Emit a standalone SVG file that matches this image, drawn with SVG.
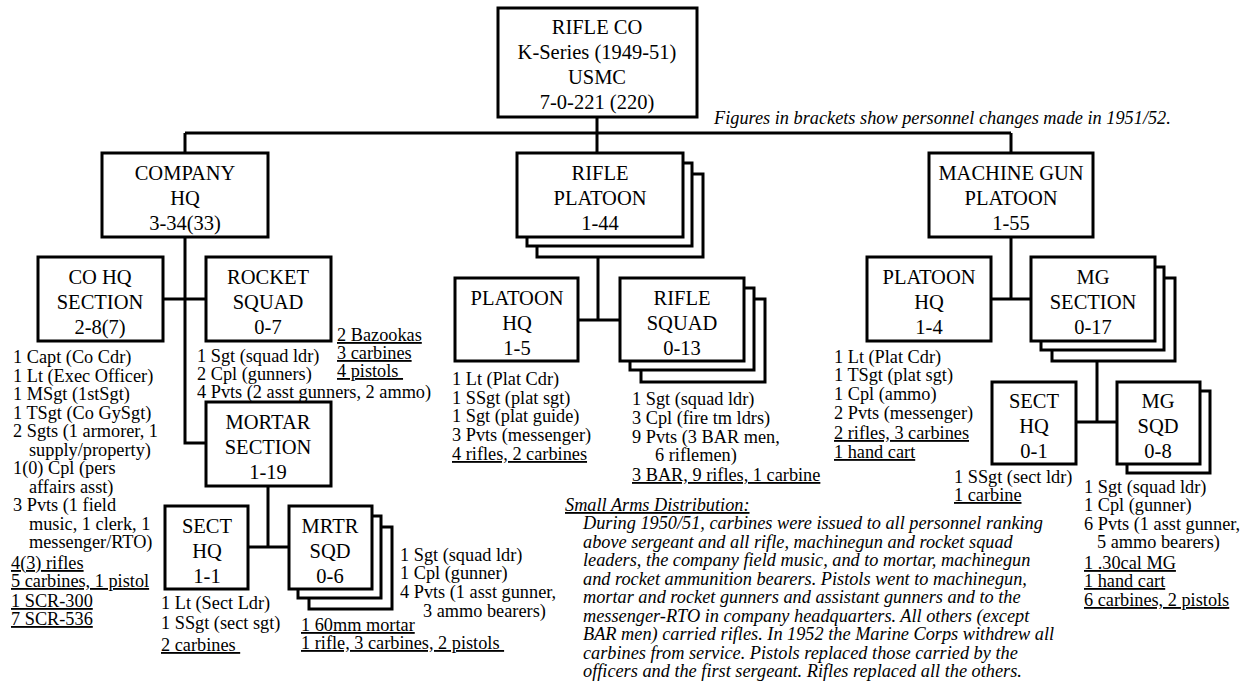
<svg xmlns="http://www.w3.org/2000/svg" width="1248" height="681" viewBox="0 0 1248 681">
<style>
.b{fill:#fff;stroke:#000;stroke-width:3}
.c{fill:none;stroke:#000;stroke-width:3}
.n{font-family:"Liberation Serif","Times New Roman",serif;font-size:20.5px;text-anchor:middle;fill:#000}
.d{font-family:"Liberation Serif","Times New Roman",serif;font-size:18.3px;fill:#000}
.u{text-decoration:underline}
.i{font-style:italic}
</style>
<rect width="1248" height="681" fill="#fff"/>
<g id="connectors">
<path class="c" d="M597 117V153M185 133H1011M185 133V153M1011 133V153"/>
<path class="c" d="M185 237V443H206M163 299H206"/>
<path class="c" d="M268 486V547M248 547H289"/>
<path class="c" d="M598 237V320M578 320H620"/>
<path class="c" d="M1011 237V299M991 299H1031"/>
<path class="c" d="M1097 341V422M1076 422H1117"/>
</g>
<g id="rifle-co">
<rect class="b" x="498" y="8" width="199" height="109"/>
<text class="n" x="597" y="34">RIFLE CO</text>
<text class="n" x="597" y="59">K-Series (1949-51)</text>
<text class="n" x="597" y="84">USMC</text>
<text class="n" x="597" y="109">7-0-221 (220)</text>
</g>
<g id="note">
<text class="d i" x="714" y="124">Figures in brackets show personnel changes made in 1951/52.</text>
</g>
<g id="company-hq">
<rect class="b" x="102" y="153" width="166" height="84"/>
<text class="n" x="185" y="180">COMPANY</text>
<text class="n" x="185" y="205">HQ</text>
<text class="n" x="185" y="230">3-34(33)</text>
</g>
<g id="co-hq-section">
<rect class="b" x="38" y="257" width="125" height="84"/>
<text class="n" x="100" y="284">CO HQ</text>
<text class="n" x="100" y="309">SECTION</text>
<text class="n" x="100" y="334">2-8(7)</text>
<text class="d" x="13" y="363">1 Capt (Co Cdr)</text>
<text class="d" x="13" y="381.5">1 Lt (Exec Officer)</text>
<text class="d" x="13" y="400">1 MSgt (1stSgt)</text>
<text class="d" x="13" y="418.5">1 TSgt (Co GySgt)</text>
<text class="d" x="13" y="437">2 Sgts (1 armorer, 1</text>
<text class="d" x="29" y="455.5">supply/property)</text>
<text class="d" x="13" y="474">1(0) Cpl (pers</text>
<text class="d" x="29" y="492.5">affairs asst)</text>
<text class="d" x="13" y="511">3 Pvts (1 field</text>
<text class="d" x="29" y="529.5">music, 1 clerk, 1</text>
<text class="d" x="29" y="548">messenger/RTO)</text>
<text class="d u" x="11" y="569">4(3) rifles</text>
<text class="d u" x="11" y="587">5 carbines, 1 pistol</text>
<text class="d u" x="11" y="607">1 SCR-300</text>
<text class="d u" x="11" y="625">7 SCR-536</text>
</g>
<g id="rocket-squad">
<rect class="b" x="206" y="257" width="125" height="84"/>
<text class="n" x="268" y="284">ROCKET</text>
<text class="n" x="268" y="309">SQUAD</text>
<text class="n" x="268" y="334">0-7</text>
<text class="d" x="197" y="362">1 Sgt (squad ldr)</text>
<text class="d" x="197" y="380">2 Cpl (gunners)</text>
<text class="d" x="197" y="398">4 Pvts (2 asst gunners, 2 ammo)</text>
<text class="d u" x="337" y="341">2 Bazookas</text>
<text class="d u" x="337" y="359">3 carbines</text>
<text class="d u" x="337" y="377">4 pistols&#160;</text>
</g>
<g id="mortar-section">
<rect class="b" x="206" y="402" width="125" height="84"/>
<text class="n" x="268" y="429">MORTAR</text>
<text class="n" x="268" y="454">SECTION</text>
<text class="n" x="268" y="479">1-19</text>
</g>
<g id="mortar-sect-hq">
<rect class="b" x="165" y="506" width="83" height="83"/>
<text class="n" x="207" y="533">SECT</text>
<text class="n" x="207" y="558">HQ</text>
<text class="n" x="207" y="583">1-1</text>
<text class="d" x="161" y="609">1 Lt (Sect Ldr)</text>
<text class="d" x="161" y="629">1 SSgt (sect sgt)</text>
<text class="d u" x="161" y="651">2 carbines&#160;</text>
</g>
<g id="mrtr-sqd">
<rect class="b" x="309" y="527" width="83" height="82"/>
<rect class="b" x="298" y="516" width="83" height="82"/>
<rect class="b" x="289" y="506" width="83" height="83"/>
<text class="n" x="330" y="533">MRTR</text>
<text class="n" x="330" y="558">SQD</text>
<text class="n" x="330" y="583">0-6</text>
<text class="d" x="400" y="561">1 Sgt (squad ldr)</text>
<text class="d" x="400" y="579">1 Cpl (gunner)</text>
<text class="d" x="400" y="598">4 Pvts (1 asst gunner,</text>
<text class="d" x="423" y="617">3 ammo bearers)</text>
<text class="d u" x="301" y="631">1 60mm mortar</text>
<text class="d u" x="301" y="649">1 rifle, 3 carbines, 2 pistols&#160;</text>
</g>
<g id="rifle-platoon">
<rect class="b" x="537" y="174" width="166" height="83"/>
<rect class="b" x="527" y="163" width="165" height="83"/>
<rect class="b" x="517" y="153" width="166" height="84"/>
<text class="n" x="600" y="180">RIFLE</text>
<text class="n" x="600" y="205">PLATOON</text>
<text class="n" x="600" y="230">1-44</text>
</g>
<g id="platoon-hq">
<rect class="b" x="455" y="278" width="123" height="83"/>
<text class="n" x="517" y="305">PLATOON</text>
<text class="n" x="517" y="330">HQ</text>
<text class="n" x="517" y="355">1-5</text>
<text class="d" x="452" y="385">1 Lt (Plat Cdr)</text>
<text class="d" x="452" y="404">1 SSgt (plat sgt)</text>
<text class="d" x="452" y="422">1 Sgt (plat guide)</text>
<text class="d" x="452" y="441">3 Pvts (messenger)</text>
<text class="d u" x="452" y="460">4 rifles, 2 carbines</text>
</g>
<g id="rifle-squad">
<rect class="b" x="641" y="299" width="124" height="83"/>
<rect class="b" x="630" y="288" width="124" height="82"/>
<rect class="b" x="620" y="278" width="124" height="83"/>
<text class="n" x="682" y="305">RIFLE</text>
<text class="n" x="682" y="330">SQUAD</text>
<text class="n" x="682" y="355">0-13</text>
<text class="d" x="632" y="405">1 Sgt (squad ldr)</text>
<text class="d" x="632" y="424">3 Cpl (fire tm ldrs)</text>
<text class="d" x="632" y="443">9 Pvts (3 BAR men,</text>
<text class="d" x="655" y="461">6 riflemen)</text>
<text class="d u" x="632" y="481">3 BAR, 9 rifles, 1 carbine</text>
</g>
<g id="small-arms">
<text class="d i u" x="565" y="511">Small Arms Distribution:</text>
<text class="d i" x="583" y="529">During 1950/51, carbines were issued to all personnel ranking</text>
<text class="d i" x="583" y="547.5">above sergeant and all rifle, machinegun and rocket squad</text>
<text class="d i" x="583" y="566">leaders, the company field music, and to mortar, machinegun</text>
<text class="d i" x="583" y="584.5">and rocket ammunition bearers. Pistols went to machinegun,</text>
<text class="d i" x="583" y="603">mortar and rocket gunners and assistant gunners and to the</text>
<text class="d i" x="583" y="621.5">messenger-RTO in company headquarters. All others (except</text>
<text class="d i" x="583" y="640">BAR men) carried rifles. In 1952 the Marine Corps withdrew all</text>
<text class="d i" x="583" y="658.5">carbines from service. Pistols replaced those carried by the</text>
<text class="d i" x="583" y="677">officers and the first sergeant. Rifles replaced all the others.</text>
</g>
<g id="mg-platoon">
<rect class="b" x="929" y="153" width="164" height="84"/>
<text class="n" x="1011" y="180">MACHINE GUN</text>
<text class="n" x="1011" y="205">PLATOON</text>
<text class="n" x="1011" y="230">1-55</text>
</g>
<g id="mg-platoon-hq">
<rect class="b" x="867" y="257" width="124" height="84"/>
<text class="n" x="929" y="284">PLATOON</text>
<text class="n" x="929" y="309">HQ</text>
<text class="n" x="929" y="334">1-4</text>
<text class="d" x="834" y="363">1 Lt (Plat Cdr)</text>
<text class="d" x="834" y="381">1 TSgt (plat sgt)</text>
<text class="d" x="834" y="400">1 Cpl (ammo)</text>
<text class="d" x="834" y="419">2 Pvts (messenger)</text>
<text class="d u" x="834" y="439">2 rifles, 3 carbines</text>
<text class="d u" x="834" y="458">1 hand cart</text>
</g>
<g id="mg-section">
<rect class="b" x="1052" y="278" width="123" height="83"/>
<rect class="b" x="1041" y="267" width="123" height="83"/>
<rect class="b" x="1031" y="257" width="124" height="84"/>
<text class="n" x="1093" y="284">MG</text>
<text class="n" x="1093" y="309">SECTION</text>
<text class="n" x="1093" y="334">0-17</text>
</g>
<g id="mg-sect-hq">
<rect class="b" x="992" y="382" width="84" height="82"/>
<text class="n" x="1034" y="408">SECT</text>
<text class="n" x="1034" y="433">HQ</text>
<text class="n" x="1034" y="458">0-1</text>
<text class="d" x="954" y="483">1 SSgt (sect ldr)</text>
<text class="d u" x="954" y="501">1 carbine</text>
</g>
<g id="mg-sqd">
<rect class="b" x="1127" y="391" width="83" height="82"/>
<rect class="b" x="1117" y="382" width="83" height="82"/>
<text class="n" x="1158" y="408">MG</text>
<text class="n" x="1158" y="433">SQD</text>
<text class="n" x="1158" y="458">0-8</text>
<text class="d" x="1084" y="493">1 Sgt (squad ldr)</text>
<text class="d" x="1084" y="511">1 Cpl (gunner)</text>
<text class="d" x="1084" y="530">6 Pvts (1 asst gunner,</text>
<text class="d" x="1097" y="548">5 ammo bearers)</text>
<text class="d u" x="1084" y="569">1 .30cal MG</text>
<text class="d u" x="1084" y="587">1 hand cart</text>
<text class="d u" x="1084" y="606">6 carbines, 2 pistols</text>
</g>
</svg>
